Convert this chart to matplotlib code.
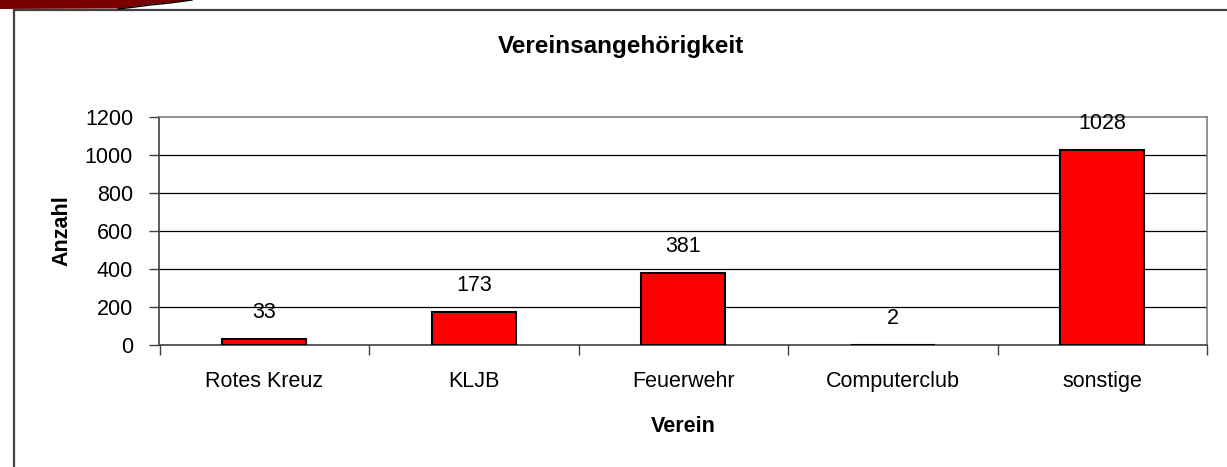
import numpy as np
import matplotlib
matplotlib.use('Agg')
import matplotlib.pyplot as plt

plt.rcParams['font.family'] = ['Liberation Sans', 'DejaVu Sans']

# Daten
vereine = ['Rotes Kreuz', 'KLJB', 'Feuerwehr', 'Computerclub', 'sonstige']
anzahl = [33, 173, 381, 2, 1028]
y_ticks = [0, 200, 400, 600, 800, 1000, 1200]

W, H = 1227, 467
fs = 15.5
fig = plt.figure(figsize=(W / 100, H / 100), dpi=100)

# Rahmen und Deko oben links
deko = fig.add_axes([0, 0, 1, 1])
deko.set_xlim(0, W)
deko.set_ylim(H, 0)
deko.axis('off')
deko.plot([14, W], [10, 10], color='#404040', lw=1.6)
deko.plot([14, 14], [10, H], color='#404040', lw=1.6)
rand_x = [0, 0, 120, 135, 150, 170, 192, 0]
rand_y = [0, 9, 8.5, 6.5, 4.5, 2.5, 0, 0]
deko.fill(rand_x, rand_y, color='#7a0000', lw=0)
deko.plot([118, 135, 150, 170, 192], [9, 7, 5, 3, 0], color='black', lw=1.0)

ax = fig.add_axes([159.5 / W, 1 - 345 / H, (1207 - 159.5) / W, (345 - 117) / H])
x = np.arange(len(vereine))
bars = ax.bar(x, anzahl, width=0.4, color='#ff0000', edgecolor='black', lw=1.5, zorder=3)

for yt in y_ticks[1:-1]:
    ax.axhline(yt, color='black', lw=0.9, zorder=1)

for xi, v in zip(x, anzahl):
    ax.annotate(str(v), (xi, v), xytext=(0, 19), textcoords='offset points',
                ha='center', va='center', fontsize=fs, zorder=4)

ax.set_xlim(-0.5, len(vereine) - 0.5)
ax.set_ylim(0, 1200)
ax.set_yticks(y_ticks)
ax.set_yticklabels([str(t) for t in y_ticks], fontsize=fs)
ax.set_xticks(np.arange(len(vereine) + 1) - 0.5)
ax.set_xticklabels([])
ax.set_xticks(x, minor=True)
ax.set_xticklabels(vereine, minor=True, fontsize=fs)
ax.tick_params(axis='x', which='major', direction='out', length=7, width=1, color='#404040')
ax.tick_params(axis='x', which='minor', length=0, pad=19)
ax.tick_params(axis='y', direction='out', length=7, width=1, color='#404040', pad=12)

for s in ['top', 'right']:
    ax.spines[s].set_color('#808080')
    ax.spines[s].set_linewidth(1.2)
for s in ['left', 'bottom']:
    ax.spines[s].set_color('#404040')
    ax.spines[s].set_linewidth(1.2)

ax.set_xlabel('Verein', fontsize=fs, fontweight='bold', labelpad=17)
ax.set_ylabel('Anzahl', fontsize=fs, fontweight='bold', labelpad=9)
fig.text(621 / W, 1 - 47 / H, 'Vereinsangehörigkeit', ha='center', va='center',
         fontsize=17.5, fontweight='bold')

fig.savefig('out.png', dpi=100)
